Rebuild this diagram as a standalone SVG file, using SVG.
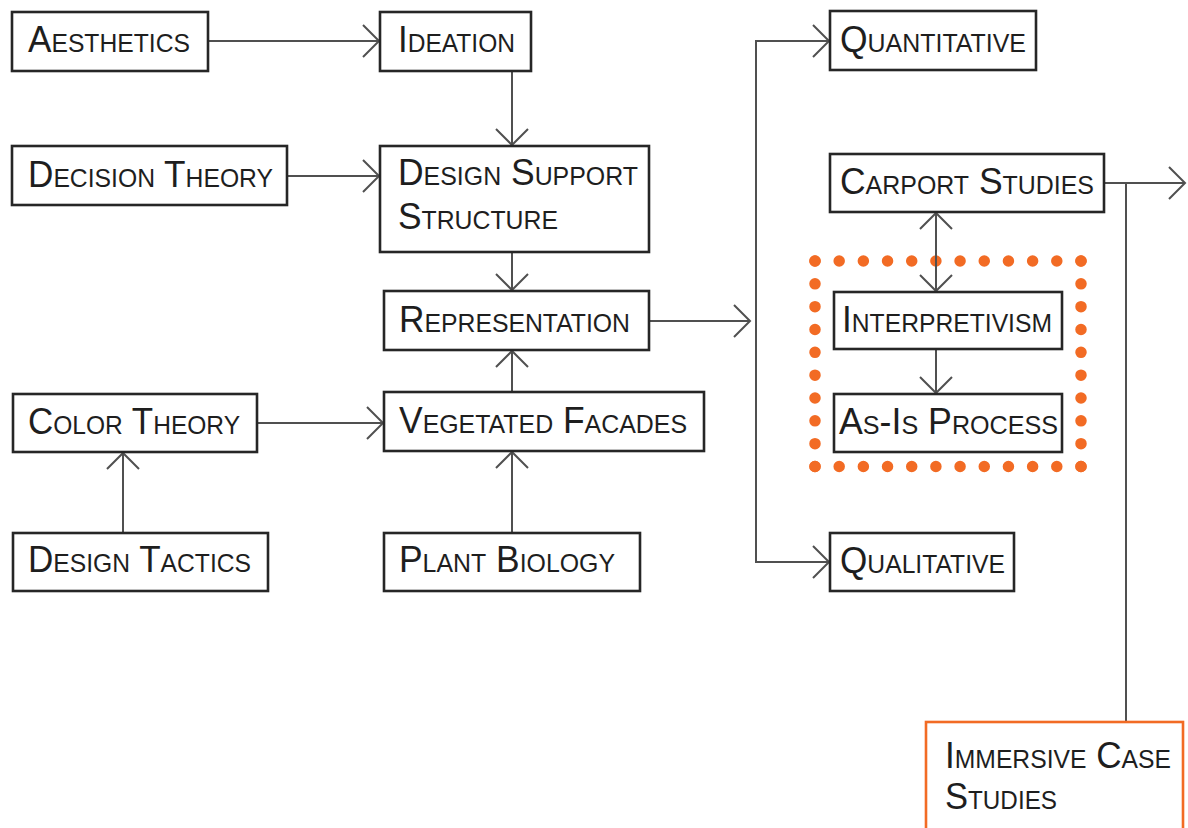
<svg xmlns="http://www.w3.org/2000/svg" width="1188" height="828" viewBox="0 0 1188 828">
  <style>
    .box { fill: #ffffff; stroke: #262626; stroke-width: 2.6; }
    .hl { fill: #ffffff; stroke: #f26b24; stroke-width: 2.6; }
    .lbl { font-family: "Liberation Sans", Arial, sans-serif; font-size: 37px; font-variant: small-caps; fill: #1e1e1e; }
    .wire { fill: none; stroke: #505050; stroke-width: 2; }
    .dots { fill: none; stroke: #f26b24; stroke-width: 11.5; stroke-linecap: round; }
  </style>
  <defs>
    <marker id="open" viewBox="-18 -18 20 36" refX="0" refY="0" markerWidth="20" markerHeight="36" markerUnits="userSpaceOnUse" orient="auto-start-reverse">
      <path d="M-16,-16 L0,0 L-16,16" fill="none" stroke="#505050" stroke-width="2"/>
    </marker>
  </defs>

  <rect width="1188" height="828" fill="#ffffff"/>

  <!-- dotted grouping frame -->
  <g id="frame">
    <path class="dots" d="M815,261 H1081" stroke-dasharray="0 24.18"/>
    <path class="dots" d="M815,466.5 H1081" stroke-dasharray="0 24.18"/>
    <path class="dots" d="M815,261 V466.5" stroke-dasharray="0 22.83"/>
    <path class="dots" d="M1081,261 V466.5" stroke-dasharray="0 22.83"/>
  </g>

  <g id="connectors">
    <path class="wire" d="M208,41 H379" marker-end="url(#open)"/>
    <path class="wire" d="M512,71 V145" marker-end="url(#open)"/>
    <path class="wire" d="M287,176 H379" marker-end="url(#open)"/>
    <path class="wire" d="M512,253 V290" marker-end="url(#open)"/>
    <path class="wire" d="M512,391 V351" marker-end="url(#open)"/>
    <path class="wire" d="M257,423 H383" marker-end="url(#open)"/>
    <path class="wire" d="M123,532 V453" marker-end="url(#open)"/>
    <path class="wire" d="M512,532 V452" marker-end="url(#open)"/>
    <path class="wire" d="M649,321 H750" marker-end="url(#open)"/>
    <path class="wire" d="M829,41 H756 V562 H829" marker-start="url(#open)" marker-end="url(#open)"/>
    <path class="wire" d="M936,213 V291" marker-start="url(#open)" marker-end="url(#open)"/>
    <path class="wire" d="M936,349 V393" marker-end="url(#open)"/>
    <path class="wire" d="M1104,183 H1185" marker-end="url(#open)"/>
    <path class="wire" d="M1126,183 V721"/>
  </g>

  <g id="aesthetics">
    <rect class="box" x="12" y="12" width="196" height="59"/>
    <text class="lbl" x="28" y="52" textLength="162" lengthAdjust="spacingAndGlyphs">Aesthetics</text>
  </g>
  <g id="ideation">
    <rect class="box" x="380" y="12" width="151" height="59"/>
    <text class="lbl" x="398" y="52" textLength="117" lengthAdjust="spacingAndGlyphs">Ideation</text>
  </g>
  <g id="decision-theory">
    <rect class="box" x="12" y="146" width="275" height="59"/>
    <text class="lbl" x="28" y="187" textLength="245" lengthAdjust="spacingAndGlyphs">Decision Theory</text>
  </g>
  <g id="design-support-structure">
    <rect class="box" x="380" y="146" width="269" height="106"/>
    <text class="lbl" x="398" y="185" textLength="240" lengthAdjust="spacingAndGlyphs">Design Support</text>
    <text class="lbl" x="398" y="229" textLength="160" lengthAdjust="spacingAndGlyphs">Structure</text>
  </g>
  <g id="representation">
    <rect class="box" x="384" y="291" width="265" height="59"/>
    <text class="lbl" x="399" y="332" textLength="231" lengthAdjust="spacingAndGlyphs">Representation</text>
  </g>
  <g id="color-theory">
    <rect class="box" x="13" y="394" width="244" height="58"/>
    <text class="lbl" x="28" y="434" textLength="212" lengthAdjust="spacingAndGlyphs">Color Theory</text>
  </g>
  <g id="vegetated-facades">
    <rect class="box" x="384" y="392" width="320" height="59"/>
    <text class="lbl" x="399" y="433" textLength="288" lengthAdjust="spacingAndGlyphs">Vegetated Facades</text>
  </g>
  <g id="design-tactics">
    <rect class="box" x="13" y="533" width="255" height="58"/>
    <text class="lbl" x="28" y="572" textLength="223" lengthAdjust="spacingAndGlyphs">Design Tactics</text>
  </g>
  <g id="plant-biology">
    <rect class="box" x="384" y="533" width="256" height="58"/>
    <text class="lbl" x="399" y="572" textLength="216" lengthAdjust="spacingAndGlyphs">Plant Biology</text>
  </g>
  <g id="quantitative">
    <rect class="box" x="830" y="11" width="206" height="59"/>
    <text class="lbl" x="840" y="52" textLength="186" lengthAdjust="spacingAndGlyphs">Quantitative</text>
  </g>
  <g id="carport-studies">
    <rect class="box" x="830" y="154" width="274" height="58"/>
    <text class="lbl" x="840" y="194" textLength="254" lengthAdjust="spacingAndGlyphs">Carport Studies</text>
  </g>
  <g id="interpretivism">
    <rect class="box" x="834" y="292" width="228" height="57"/>
    <text class="lbl" x="842" y="332" textLength="210" lengthAdjust="spacingAndGlyphs">Interpretivism</text>
  </g>
  <g id="as-is-process">
    <rect class="box" x="834" y="394" width="228" height="58"/>
    <text class="lbl" x="839" y="434" textLength="219" lengthAdjust="spacingAndGlyphs">As-Is Process</text>
  </g>
  <g id="qualitative">
    <rect class="box" x="830" y="533" width="184" height="58"/>
    <text class="lbl" x="840" y="573" textLength="165" lengthAdjust="spacingAndGlyphs">Qualitative</text>
  </g>
  <g id="immersive-case-studies">
    <rect class="hl" x="926" y="722" width="257" height="120"/>
    <text class="lbl" x="945" y="768" textLength="226" lengthAdjust="spacingAndGlyphs">Immersive Case</text>
    <text class="lbl" x="945" y="809" textLength="112" lengthAdjust="spacingAndGlyphs">Studies</text>
  </g>
</svg>
